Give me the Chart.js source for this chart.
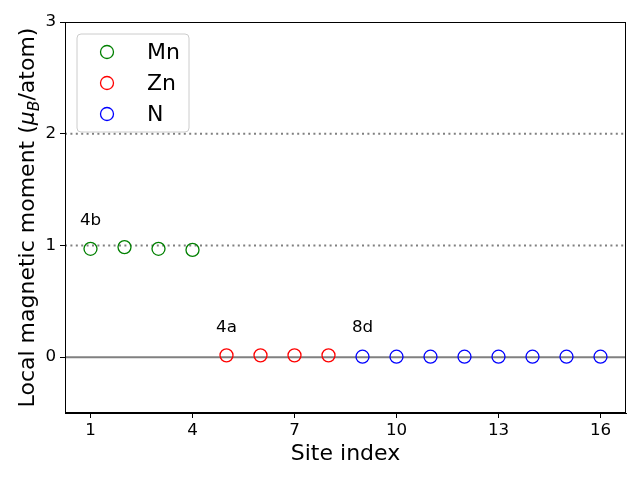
<!DOCTYPE html>
<html>
<head>
<meta charset="utf-8">
<script src="https://cdn.jsdelivr.net/npm/chart.js@4"></script>
<style>
html,body{margin:0;padding:0;background:#fff;}
#wrap{width:640px;height:480px;position:relative;}
</style>
</head>
<body>
<div id="wrap"><canvas id="c" width="640" height="480"></canvas></div>
<script>
// ---- data ----
const mnSites = [1, 2, 3, 4];
const mnMoments = [0.97, 0.985, 0.97, 0.96];
const znSites = [5, 6, 7, 8];
const znMoments = [0.016, 0.016, 0.016, 0.016];
const nSites = [9, 10, 11, 12, 13, 14, 15, 16];
const nMoments = [0.004, 0.004, 0.004, 0.004, 0.004, 0.004, 0.004, 0.004];
const seriesNames = ['Mn', 'Zn', 'N'];
const seriesColors = ['#008000', '#ff0000', '#0000ff'];
const xTicks = [1, 4, 7, 10, 13, 16];
const yTicks = [0, 1, 2, 3];
const xRange = [0.25, 16.75];
const yRange = [-0.5, 3];
const dottedLevels = [1, 2];
const solidLevel = 0;
const annoText = ['4b', '4a', '8d'];
const annoX = [1, 5, 9];
const annoY = [1.22, 0.26, 0.26];

const FONT = "'DejaVu Sans', sans-serif";
const pts = (xs, ys) => xs.map((x, i) => ({x: x, y: ys[i]}));

const markerStyle = (c) => ({
  type: 'scatter', showLine: false, pointStyle: 'circle', pointRadius: 6.5,
  pointHoverRadius: 6.5, pointBorderWidth: 1.3, borderColor: c,
  backgroundColor: 'rgba(0,0,0,0)', pointBackgroundColor: 'rgba(0,0,0,0)'
});

const refLine = (y, dash) => ({
  type: 'line', data: [{x: xRange[0], y: y}, {x: xRange[1], y: y}],
  borderColor: '#808080', borderWidth: 2, borderDash: dash, pointRadius: 0,
  fill: false, order: 10
});

const datasets = [
  Object.assign({label: seriesNames[0], data: pts(mnSites, mnMoments)}, markerStyle(seriesColors[0])),
  Object.assign({label: seriesNames[1], data: pts(znSites, znMoments)}, markerStyle(seriesColors[1])),
  Object.assign({label: seriesNames[2], data: pts(nSites, nMoments)}, markerStyle(seriesColors[2])),
  refLine(solidLevel, []),
].concat(dottedLevels.map(v => refLine(v, [2, 3.4])));

const extras = {
  id: 'extras',
  afterDraw(chart) {
    const ctx = chart.ctx, a = chart.chartArea;
    const xs = chart.scales.x, ys = chart.scales.y;
    ctx.save();
    // frame
    ctx.strokeStyle = '#000'; ctx.lineWidth = 1;
    ctx.strokeRect(Math.round(a.left) + 0.5, Math.round(a.top) + 0.5,
      Math.round(a.right - a.left) - 1, Math.round(a.bottom - a.top) - 1);
    // annotations
    ctx.fillStyle = '#000'; ctx.font = '16.7px ' + FONT;
    ctx.textAlign = 'center'; ctx.textBaseline = 'middle';
    annoText.forEach((t, i) => ctx.fillText(t, xs.getPixelForValue(annoX[i]), ys.getPixelForValue(annoY[i])));
    // legend
    const lx = 77, ly = 34, lw = 112, lh = 98, r = 4;
    ctx.beginPath();
    ctx.moveTo(lx + r, ly); ctx.lineTo(lx + lw - r, ly); ctx.arcTo(lx + lw, ly, lx + lw, ly + r, r);
    ctx.lineTo(lx + lw, ly + lh - r); ctx.arcTo(lx + lw, ly + lh, lx + lw - r, ly + lh, r);
    ctx.lineTo(lx + r, ly + lh); ctx.arcTo(lx, ly + lh, lx, ly + lh - r, r);
    ctx.lineTo(lx, ly + r); ctx.arcTo(lx, ly, lx + r, ly, r); ctx.closePath();
    ctx.fillStyle = 'rgba(255,255,255,0.8)'; ctx.fill();
    ctx.strokeStyle = '#cccccc'; ctx.lineWidth = 1; ctx.stroke();
    ctx.font = '22px ' + FONT; ctx.textAlign = 'left'; ctx.textBaseline = 'middle';
    seriesNames.forEach((n, i) => {
      const yy = 52 + i * 31;
      ctx.beginPath(); ctx.arc(107, yy, 6.5, 0, Math.PI * 2);
      ctx.strokeStyle = seriesColors[i]; ctx.lineWidth = 1.3; ctx.stroke();
      ctx.fillStyle = '#000'; ctx.fillText(n, 147, yy + 1);
    });
    // y title with math
    ctx.translate(26, (a.top + a.bottom) / 2);
    ctx.rotate(-Math.PI / 2);
    const big = '22px ' + FONT, ital = 'italic 22px ' + FONT, sub = 'italic 15.5px ' + FONT;
    const parts = [
      {t: 'Local magnetic moment (', f: big, dy: 0},
      {t: 'μ', f: ital, dy: 0},
      {t: 'B', f: sub, dy: 5},
      {t: '/atom)', f: big, dy: 0}
    ];
    let total = 0;
    parts.forEach(p => { ctx.font = p.f; p.w = ctx.measureText(p.t).width; total += p.w; });
    let x0 = -total / 2;
    ctx.fillStyle = '#000'; ctx.textAlign = 'left'; ctx.textBaseline = 'alphabetic';
    parts.forEach(p => { ctx.font = p.f; ctx.fillText(p.t, x0, 8 + p.dy); x0 += p.w; });
    ctx.restore();
  }
};

new Chart(document.getElementById('c'), {
  type: 'scatter',
  data: {datasets: datasets},
  options: {
    responsive: false, animation: false, devicePixelRatio: 1,
    layout: {padding: {top: 22, right: 14, left: 0, bottom: 0}},
    plugins: {legend: {display: false}, tooltip: {enabled: false}},
    scales: {
      x: {
        type: 'linear', min: xRange[0], max: xRange[1],
        afterBuildTicks: s => { s.ticks = xTicks.map(v => ({value: v})); },
        afterFit: s => { s.height = 67; },
        grid: {drawOnChartArea: false, drawTicks: true, tickLength: 5, color: '#000', tickWidth: 1},
        border: {display: true, color: '#000', width: 1},
        ticks: {color: '#000', font: {family: FONT, size: 16.7}, padding: 3, maxRotation: 0,
                callback: v => String(v)},
        title: {display: true, text: 'Site index', color: '#000', font: {family: FONT, size: 22}, padding: {top: 4, bottom: 13}}
      },
      y: {
        type: 'linear', min: yRange[0], max: yRange[1],
        afterBuildTicks: s => { s.ticks = yTicks.map(v => ({value: v})); },
        afterFit: s => { s.width = 65; },
        grid: {drawOnChartArea: false, drawTicks: true, tickLength: 5, color: '#000', tickWidth: 1},
        border: {display: true, color: '#000', width: 1},
        ticks: {color: '#000', font: {family: FONT, size: 16.7}, padding: 4, callback: v => String(v)}
      }
    }
  },
  plugins: [extras]
});
</script>
</body>
</html>
